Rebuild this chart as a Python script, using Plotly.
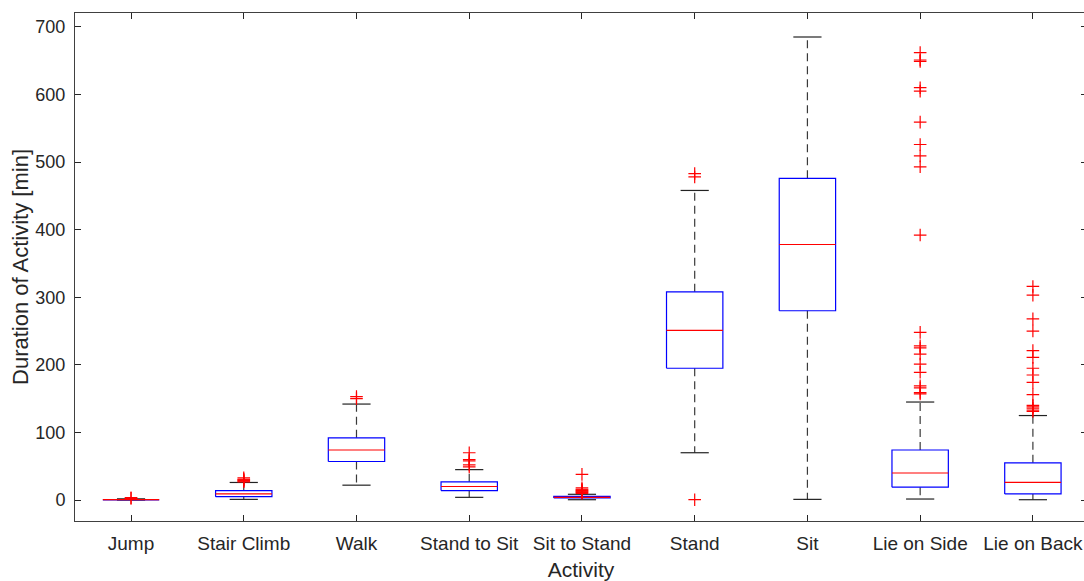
import plotly.graph_objects as go

categories = ["Jump", "Stair Climb", "Walk", "Stand to Sit", "Sit to Stand",
              "Stand", "Sit", "Lie on Side", "Lie on Back"]
q1 = [0.2, 5, 57, 14, 3, 195, 280, 19, 9]
median = [0.6, 9, 74, 20, 4, 251, 378, 40, 26]
q3 = [1.0, 14, 92, 27, 5.5, 308, 476, 74, 55]
lower_whisker = [0, 1, 22, 4, 0.5, 70, 1, 1.5, 0.5]
upper_whisker = [1.8, 26, 142, 45, 8.5, 458, 685, 145, 125]
outliers = [
    [2.5, 3.5],
    [27, 28, 29, 30, 31, 33],
    [150, 153],
    [49, 52, 58, 60, 70],
    [10, 11, 12, 13, 14, 15, 16, 18, 38],
    [0.5, 478, 483],
    [],
    [157, 159, 166, 169, 189, 201, 216, 225, 228, 248, 392, 493, 509, 526,
     559, 605, 610, 649, 651, 662],
    [131, 133, 136, 138, 140, 156, 174, 185, 195, 211, 221, 250, 268, 303, 316],
]
yticks = [0, 100, 200, 300, 400, 500, 600, 700]

positions = list(range(1, len(categories) + 1))
hw = 0.25   # half box width
cw = 0.125  # half cap width

bx, by, mx, my, wx, wy, cx, cy, ox, oy = [], [], [], [], [], [], [], [], [], []
for i, p in enumerate(positions):
    bx += [p - hw, p + hw, p + hw, p - hw, p - hw, None]
    by += [q1[i], q1[i], q3[i], q3[i], q1[i], None]
    mx += [p - hw, p + hw, None]
    my += [median[i], median[i], None]
    wx += [p, p, None, p, p, None]
    wy += [q3[i], upper_whisker[i], None, q1[i], lower_whisker[i], None]
    cx += [p - cw, p + cw, None, p - cw, p + cw, None]
    cy += [upper_whisker[i], upper_whisker[i], None, lower_whisker[i], lower_whisker[i], None]
    for v in outliers[i]:
        ox.append(p)
        oy.append(v)

fig = go.Figure()
fig.add_trace(go.Scatter(x=wx, y=wy, mode="lines",
                         line=dict(color="#3a3a3a", width=1.2, dash="8px,5px"),
                         hoverinfo="skip", showlegend=False))
fig.add_trace(go.Scatter(x=cx, y=cy, mode="lines",
                         line=dict(color="#222222", width=1.2),
                         hoverinfo="skip", showlegend=False))
fig.add_trace(go.Scatter(x=bx, y=by, mode="lines",
                         line=dict(color="#0000ff", width=1.2),
                         hoverinfo="skip", showlegend=False))
fig.add_trace(go.Scatter(x=mx, y=my, mode="lines",
                         line=dict(color="#ff0000", width=1.2),
                         hoverinfo="skip", showlegend=False))
fig.add_trace(go.Scatter(x=ox, y=oy, mode="markers",
                         marker=dict(symbol="cross-thin", size=9,
                                     line=dict(color="#ff0000", width=1.2)),
                         hoverinfo="skip", showlegend=False))

font = "Liberation Sans, Arial, sans-serif"
fig.update_layout(
    width=1087, height=581,
    margin=dict(l=75, r=0, t=13, b=60),
    paper_bgcolor="white", plot_bgcolor="white",
    font=dict(family=font, size=18, color="#262626"),
    showlegend=False,
)
fig.update_xaxes(
    range=[0.503, 9.48],
    tickmode="array", tickvals=positions, ticktext=categories,
    tickfont=dict(size=19),
    ticks="inside", ticklen=6, tickcolor="#262626",
    showline=True, linecolor="#404040", linewidth=1, mirror="ticks",
    showgrid=False, zeroline=False,
    ticklabelstandoff=5,
    title=dict(text="Activity", font=dict(size=21, family=font, color="#262626"), standoff=10),
)
fig.update_yaxes(
    range=[-31, 720.5],
    tickmode="array", tickvals=yticks, ticktext=[str(v) for v in yticks],
    tickfont=dict(size=18),
    ticks="inside", ticklen=6, tickcolor="#262626",
    showline=True, linecolor="#404040", linewidth=1, mirror="ticks",
    showgrid=False, zeroline=False,
    ticklabelstandoff=5,
    title=dict(text="Duration of Activity [min]", font=dict(size=22, family=font, color="#262626"), standoff=0),
)

fig.write_html(
    "out.html",
    config={"displayModeBar": False},
    post_script="document.body.style.margin='0';document.body.style.overflow='hidden';",
)
